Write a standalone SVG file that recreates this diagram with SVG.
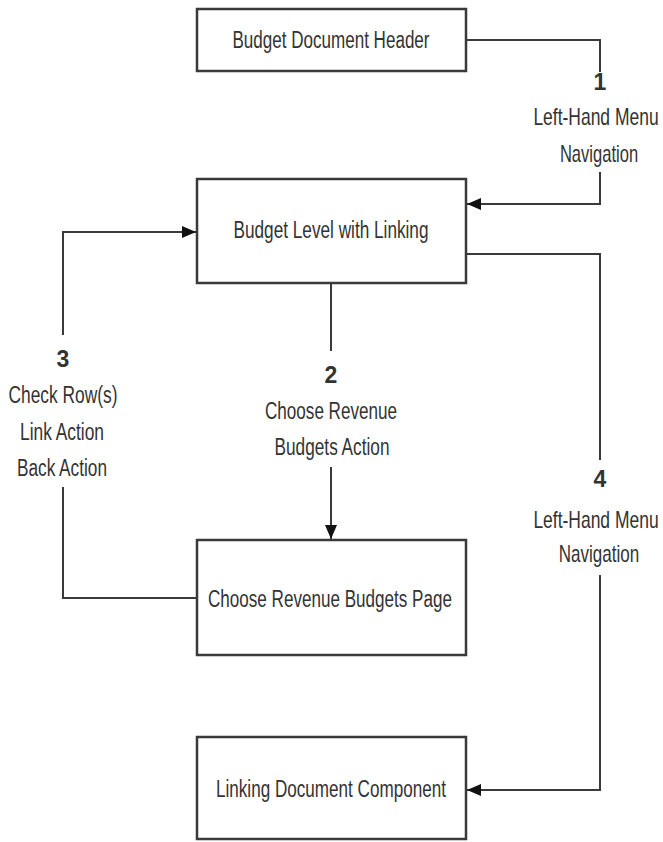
<svg xmlns="http://www.w3.org/2000/svg" width="663" height="842" viewBox="0 0 663 842">
<style>
.box{fill:#fff;stroke:#3a3a3a;stroke-width:2.5}
.ln{fill:none;stroke:#3a3a3a;stroke-width:2}
text{font-family:"Liberation Sans",Arial,sans-serif;font-size:23px;fill:#333;text-anchor:middle}
.n{font-weight:bold}
</style>
<defs>
<marker id="ah" viewBox="0 0 14 12" refX="14" refY="6" markerWidth="14" markerHeight="12" markerUnits="userSpaceOnUse" orient="auto">
<path d="M0,0 L14,6 L0,12 Z" fill="#111"/>
</marker>
</defs>
<rect width="663" height="842" fill="#fff"/>
<g id="connectors">
<polyline class="ln" points="466,40 600,40 600,72"/>
<polyline class="ln" points="600,172 600,204 467,204" marker-end="url(#ah)"/>
<line class="ln" x1="331" y1="284" x2="331" y2="351"/>
<line class="ln" x1="331" y1="467" x2="331" y2="539" marker-end="url(#ah)"/>
<polyline class="ln" points="197,598 63,598 63,487"/>
<polyline class="ln" points="63,335 63,232 196,232" marker-end="url(#ah)"/>
<polyline class="ln" points="466,254 600,254 600,460"/>
<polyline class="ln" points="600,575 600,790 467,790" marker-end="url(#ah)"/>
<text class="n" x="600" y="90">1</text>
<text transform="translate(596,125) scale(0.76,1)">Left-Hand Menu</text>
<text transform="translate(599,162) scale(0.72,1)">Navigation</text>
<text class="n" x="331" y="383">2</text>
<text x="331" y="419" textLength="132" lengthAdjust="spacingAndGlyphs">Choose Revenue</text>
<text x="332" y="455" textLength="115" lengthAdjust="spacingAndGlyphs">Budgets Action</text>
<text class="n" x="63" y="367">3</text>
<text x="63" y="403" textLength="109" lengthAdjust="spacingAndGlyphs">Check Row(s)</text>
<text x="62" y="440" textLength="84" lengthAdjust="spacingAndGlyphs">Link Action</text>
<text x="62" y="476" textLength="90" lengthAdjust="spacingAndGlyphs">Back Action</text>
<text class="n" x="600" y="487">4</text>
<text transform="translate(596,528) scale(0.76,1)">Left-Hand Menu</text>
<text transform="translate(599,562) scale(0.74,1)">Navigation</text>
</g>
<g id="node-header">
<rect class="box" x="197" y="9" width="269" height="62"/>
<text x="331" y="48" textLength="197" lengthAdjust="spacingAndGlyphs">Budget Document Header</text>
</g>
<g id="node-budget-level">
<rect class="box" x="197" y="179" width="269" height="104"/>
<text x="331" y="238" textLength="195" lengthAdjust="spacingAndGlyphs">Budget Level with Linking</text>
</g>
<g id="node-choose-page">
<rect class="box" x="197" y="540" width="269" height="115"/>
<text x="330" y="607" textLength="244" lengthAdjust="spacingAndGlyphs">Choose Revenue Budgets Page</text>
</g>
<g id="node-linking">
<rect class="box" x="197" y="737" width="269" height="102"/>
<text x="331" y="797" textLength="230" lengthAdjust="spacingAndGlyphs">Linking Document Component</text>
</g>
</svg>
